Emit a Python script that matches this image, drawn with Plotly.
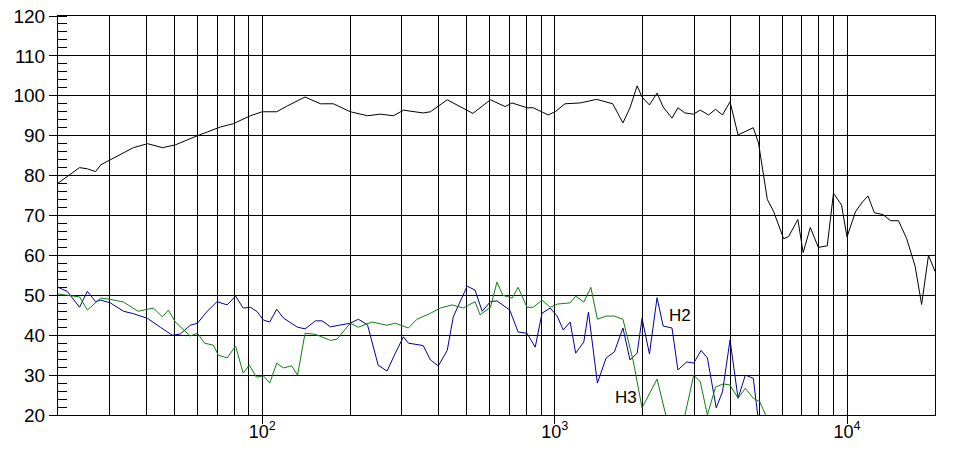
import plotly.graph_objects as go

# fundamental response
freq_main = [20, 23.7, 25.2, 26.9, 28, 30.2, 36.2, 40.5, 45.5, 50.4, 60, 72, 79.5, 91, 100, 112, 122, 140,
             158, 175, 200, 229, 253, 281, 304, 355, 376, 429, 495, 525, 603, 677, 715, 804, 845, 950,
             1004, 1085, 1220, 1392, 1580, 1712, 1810, 1915, 1990, 2110, 2240, 2350, 2520, 2640, 2790,
             2980, 3150, 3360, 3550, 3750, 3980, 4240, 4780, 4980, 5340, 5610, 6070, 6310, 6790, 7080,
             7490, 7980, 8560, 8990, 9580, 10000, 10700, 11300, 11800, 12400, 13300, 14100, 15000,
             16000, 17100, 18000, 19000, 20000]
spl_main = [78.1, 82, 81.7, 81, 82.7, 84, 87, 88, 87, 87.7, 90, 92.2, 93, 95, 96, 96, 97.5, 99.7,
            98, 98, 96, 95, 95.4, 95, 96.4, 95.7, 96, 99, 96.5, 95.6, 99, 97.3, 98.2, 97, 97, 95.2,
            96, 98, 98.2, 99.1, 98, 93.2, 97, 102.5, 99.7, 97.7, 100.7, 97.2, 94.4, 97, 95.7,
            95.4, 96.4, 95.2, 96.6, 95.2, 98.5, 90.2, 92, 88.2, 74, 71, 64.2, 64.7, 69, 60.7,
            67, 62, 62.4, 75.6, 72.6, 64.6, 71, 73.4, 74.9, 70.7, 70.2, 68.7, 68.7,
            64.2, 57.3, 47.7, 60, 56]

# second harmonic
freq_h2 = [20, 21.5, 23.7, 25.2, 26.9, 28, 30.2, 33.5, 36.2, 40.5, 44.8, 49.2, 52.4, 56.7, 60, 64.8,
           70, 75.8, 81, 86, 91, 96, 100.8, 106, 112, 118, 132, 140, 152, 160, 171, 189, 200, 213,
           229, 249, 267, 285, 304, 316, 355, 376, 400, 429, 450, 502, 525, 534, 565, 603, 635,
           665, 702, 750, 804, 858, 905, 965, 1020, 1070, 1130, 1180, 1258, 1305, 1400, 1500,
           1600, 1712, 1810, 1915, 1990, 2110, 2240, 2350, 2520, 2640, 2830, 2990, 3170, 3330,
           3570, 3750, 3980, 4240, 4490, 4780, 4950]
spl_h2 = [52, 51, 47, 51, 48.4, 48.8, 48.1, 46, 45.4, 44.2, 42, 40, 40.3, 42.5, 43, 46,
          48.4, 47.6, 49.8, 46.8, 47, 45.9, 43.8, 43.3, 46.5, 44.3, 42, 41.6, 43.6, 43.6, 42.1, 42.6, 43, 44,
          42.6, 32.5, 31, 35.5, 39.6, 38, 37.4, 33.8, 32.3, 36.2, 44.6, 52.3, 51.6, 51.3, 46, 48.4, 48.6,
          47.6, 46.3, 40.8, 40.5, 37, 45.5, 46.8, 44.8, 41.3, 43.3, 35.5, 38.3, 45.8, 28, 34.3,
          35.8, 41.8, 33.8, 35.5, 44.2, 35.3, 49.4, 42.3, 41.8, 31.3, 33.3, 33, 36.2, 34.3,
          21.8, 25.8, 38.8, 24.2, 30, 29.2, 20]

# third harmonic
freq_h3 = [20, 23.7, 25.2, 28, 30.2, 33.5, 37.6, 42.4, 45.5, 47.7, 50.4, 56.7, 60, 63.4, 68, 70.7,
           75.8, 81, 86, 90.3, 95.4, 100.8, 106, 112, 118, 126, 132, 140, 152, 171, 180, 200, 213,
           237, 267, 285, 316, 338, 376, 406, 446, 487, 534, 556, 603, 635, 665, 715, 750, 804,
           845, 905, 965, 1020, 1130, 1180, 1258, 1330, 1400, 1500, 1600, 1712, 1860, 1990, 2240,
           2390, 2550, 2790, 2990, 3150, 3330, 3550, 3780, 3980, 4240, 4490, 4780, 5030, 5270]
spl_h3 = [50.3, 49.6, 46.3, 49.3, 49, 48.3, 46, 46.8, 44.6, 46.3, 43.3, 39.8, 40.5, 38, 37.5, 35,
          34.3, 37.3, 30.5, 32.5, 29.5, 29.8, 28, 33, 31.8, 32.3, 30, 40.5, 40.2, 38.7, 39, 43, 42,
          43.3, 42.5, 43, 41.8, 44, 45.5, 46.8, 47.6, 46.8, 48.4, 45.1, 47, 53.3, 50, 49.3, 52, 47,
          47, 48.8, 47, 47.8, 48.1, 49.8, 48.3, 52, 44, 44.8, 44.8, 44, 33.3, 21.8, 29,
          20, 12, 20, 30, 28.3, 20, 27, 27.8, 27.5, 24.2, 26.7, 24.2, 23.3, 20]

grid_freqs = [m * 10 ** e for e in (1, 2, 3, 4) for m in range(1, 10) if 20 <= m * 10 ** e <= 20000]
decade_labels = {100: "10<sup>2</sup>", 1000: "10<sup>3</sup>", 10000: "10<sup>4</sup>"}
grid_text = [decade_labels.get(f, "") for f in grid_freqs]

fig = go.Figure()
fig.add_trace(go.Scatter(x=freq_main, y=spl_main, mode="lines", line=dict(color="black", width=1)))
fig.add_trace(go.Scatter(x=freq_h2, y=spl_h2, mode="lines", line=dict(color="#0000a0", width=1)))
fig.add_trace(go.Scatter(x=freq_h3, y=spl_h3, mode="lines", line=dict(color="#108010", width=1)))

fig.add_annotation(x=3.43, y=45, xref="x", yref="y", text="H2", showarrow=False,
                   font=dict(size=17, color="black"))
fig.add_annotation(x=3.245, y=24.3, xref="x", yref="y", text="H3", showarrow=False,
                   font=dict(size=17, color="black"))

# page body adds ~8px offset, so margins are shifted to compensate
fig.update_layout(
    width=957, height=455, showlegend=False,
    margin=dict(l=50, r=30, t=8, b=48),
    plot_bgcolor="white", paper_bgcolor="white",
    font=dict(family="Arial, Liberation Sans", size=18, color="black"),
)
fig.update_xaxes(type="log", range=[1.30103, 4.30103], tickvals=grid_freqs, ticktext=grid_text,
                 showgrid=True, gridcolor="black", gridwidth=1, showline=True, linecolor="black",
                 mirror=True, ticks="", zeroline=False, automargin=False,
                 minor=dict(tickvals=[100, 1000, 10000], ticks="outside", ticklen=8,
                            tickcolor="black", showgrid=False))
fig.update_yaxes(range=[20, 120], dtick=10, showgrid=True, gridcolor="black", gridwidth=1,
                 showline=True, linecolor="black", mirror=True, ticks="outside", ticklen=8,
                 tickcolor="black", zeroline=False, automargin=False, ticklabeloverflow="allow",
                 tickfont=dict(size=19),
                 minor=dict(dtick=2, ticks="inside", ticklen=9, tickcolor="black", showgrid=False))

fig.write_html("out.html")
